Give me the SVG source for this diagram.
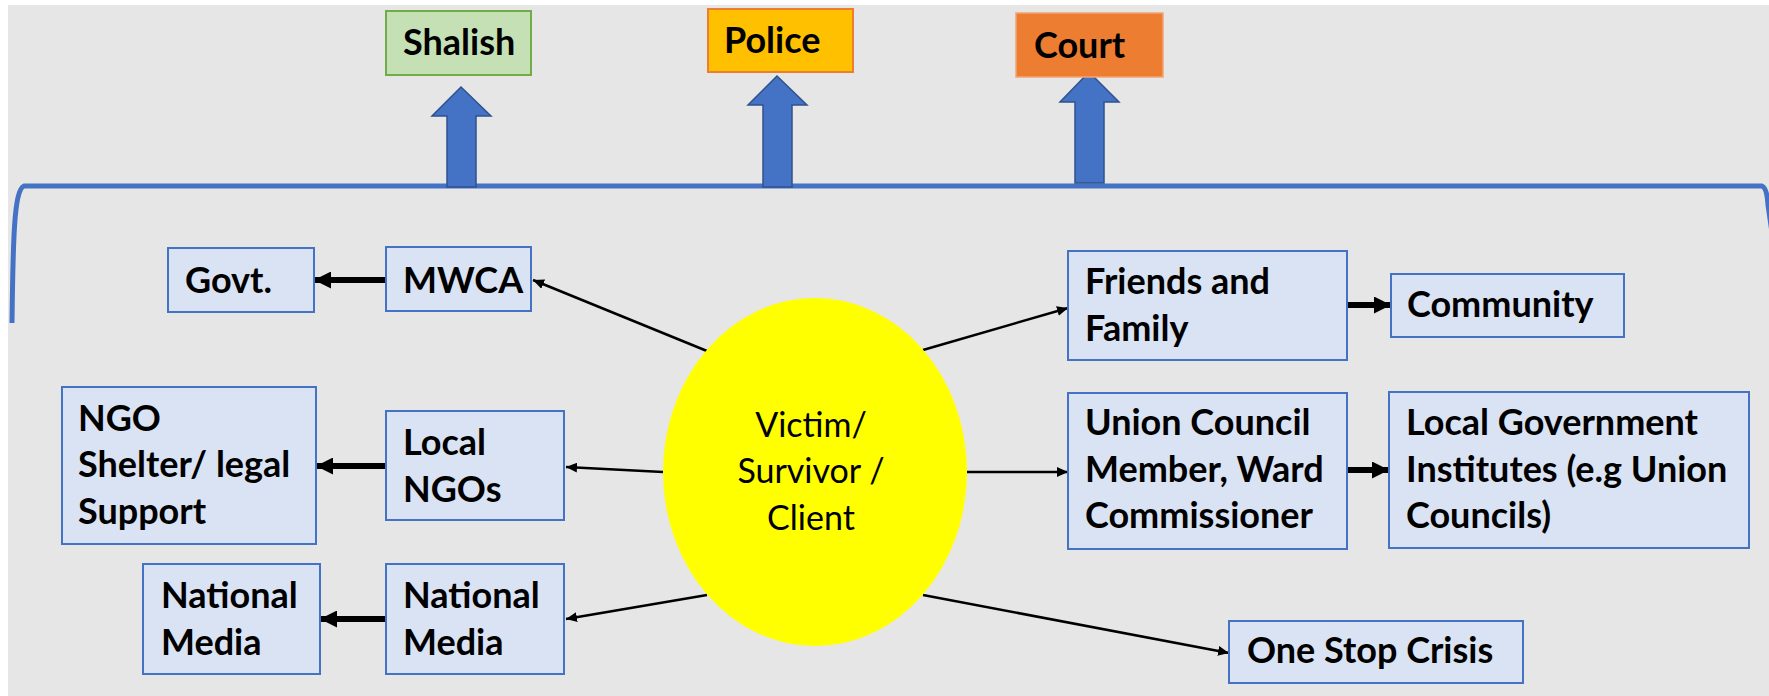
<svg xmlns="http://www.w3.org/2000/svg" width="1769" height="696" viewBox="0 0 1769 696">
<style>
.bx{fill:#dae3f3;stroke:#4472c4;stroke-width:2}
.t{font-family:Lato,"Liberation Sans",sans-serif;font-size:36px;font-weight:bold;fill:#000}
.tr{font-family:Lato,"Liberation Sans",sans-serif;font-size:34px;font-weight:normal;fill:#000}
.thin{stroke:#000;stroke-width:2.5;fill:none;marker-end:url(#ah)}
.thick{stroke:#000;stroke-width:6;fill:none;marker-end:url(#ahb)}
.barrow{fill:#4472c4;stroke:#2f528f;stroke-width:1.5}
</style>
<defs>
<marker id="ah" markerUnits="userSpaceOnUse" markerWidth="12" markerHeight="10" refX="11" refY="5" orient="auto"><path d="M0,0 L11,5 L0,10 z" fill="#000"/></marker>
<marker id="ahb" markerUnits="userSpaceOnUse" markerWidth="18" markerHeight="17" refX="17" refY="8.5" orient="auto"><path d="M0,0 L17,8.5 L0,17 z" fill="#000"/></marker>
</defs>
<rect x="8" y="5" width="1761" height="691" fill="#e7e6e6"/>
<path d="M12 323 C13 240 14 190 24 186 L1762 186 Q1767 188 1768 205 L1776 260" fill="none" stroke="#4472c4" stroke-width="5"/>
<g id="upward-arrows">
<polygon class="barrow" points="447,187 447,116 432,116 461,87 491,116 476,116 476,187"/>
<polygon class="barrow" points="763,187 763,105 748,105 777,76 807,105 792,105 792,187"/>
<polygon class="barrow" points="1075,183 1075,102 1060,102 1089,72 1119,102 1104,102 1104,183"/>
</g>
<g id="shalish"><rect x="386" y="11" width="145" height="64" fill="#c5e0b4" stroke="#70ad47" stroke-width="2"/><text class="t" x="403" y="55">Shalish</text></g>
<g id="police"><rect x="708" y="9" width="145" height="63" fill="#ffc000" stroke="#ed7d31" stroke-width="2"/><text class="t" x="724" y="53">Police</text></g>
<g id="court"><rect x="1016" y="13" width="147" height="64" fill="#ed7d31" stroke="#f4a472" stroke-width="1.5"/><text class="t" x="1034" y="58">Court</text></g>
<g id="connectors">
<line class="thin" x1="707" y1="351" x2="533" y2="280"/>
<line class="thin" x1="923" y1="350" x2="1068" y2="308"/>
<line class="thin" x1="663" y1="472" x2="566" y2="467"/>
<line class="thin" x1="967" y1="472" x2="1068" y2="472"/>
<line class="thin" x1="707" y1="595" x2="566" y2="619"/>
<line class="thin" x1="923" y1="595" x2="1229" y2="653"/>
<line class="thick" x1="386" y1="280" x2="314" y2="280"/>
<line class="thick" x1="386" y1="466" x2="316" y2="466"/>
<line class="thick" x1="386" y1="619" x2="320" y2="619"/>
<line class="thick" x1="1347" y1="305" x2="1391" y2="305"/>
<line class="thick" x1="1347" y1="470" x2="1389" y2="470"/>
</g>
<g id="victim"><ellipse cx="815" cy="472" rx="152" ry="174" fill="#ffff00"/>
<text class="tr" text-anchor="middle"><tspan x="811" y="437">Victim/</tspan><tspan x="811" y="483">Survivor /</tspan><tspan x="811" y="530">Client</tspan></text></g>
<g id="govt"><rect class="bx" x="168" y="248" width="146" height="64"/><text class="t" x="185" y="293">Govt.</text></g>
<g id="mwca"><rect class="bx" x="386" y="247" width="145" height="64"/><text class="t" x="403" y="293">MWCA</text></g>
<g id="ngo-shelter"><rect class="bx" x="62" y="387" width="254" height="157"/><text class="t"><tspan x="78" y="431">NGO</tspan><tspan x="78" y="477">Shelter/ legal</tspan><tspan x="78" y="524">Support</tspan></text></g>
<g id="local-ngos"><rect class="bx" x="386" y="411" width="178" height="109"/><text class="t"><tspan x="403" y="455">Local</tspan><tspan x="403" y="502">NGOs</tspan></text></g>
<g id="national-media-left"><rect class="bx" x="143" y="564" width="177" height="110"/><text class="t"><tspan x="161" y="608">National</tspan><tspan x="161" y="655">Media</tspan></text></g>
<g id="national-media-right"><rect class="bx" x="386" y="564" width="178" height="110"/><text class="t"><tspan x="403" y="608">National</tspan><tspan x="403" y="655">Media</tspan></text></g>
<g id="friends"><rect class="bx" x="1068" y="251" width="279" height="109"/><text class="t"><tspan x="1085" y="294">Friends and</tspan><tspan x="1085" y="341">Family</tspan></text></g>
<g id="community"><rect class="bx" x="1391" y="274" width="233" height="63"/><text class="t" x="1407" y="317">Community</text></g>
<g id="union-council"><rect class="bx" x="1068" y="393" width="279" height="156"/><text class="t"><tspan x="1085" y="435">Union Council</tspan><tspan x="1085" y="482">Member, Ward</tspan><tspan x="1085" y="528">Commissioner</tspan></text></g>
<g id="local-government"><rect class="bx" x="1389" y="392" width="360" height="156"/><text class="t"><tspan x="1406" y="435">Local Government</tspan><tspan x="1406" y="482">Institutes (e.g Union</tspan><tspan x="1406" y="528">Councils)</tspan></text></g>
<g id="one-stop"><rect class="bx" x="1229" y="621" width="294" height="62"/><text class="t" x="1247" y="663">One Stop Crisis</text></g>
</svg>
